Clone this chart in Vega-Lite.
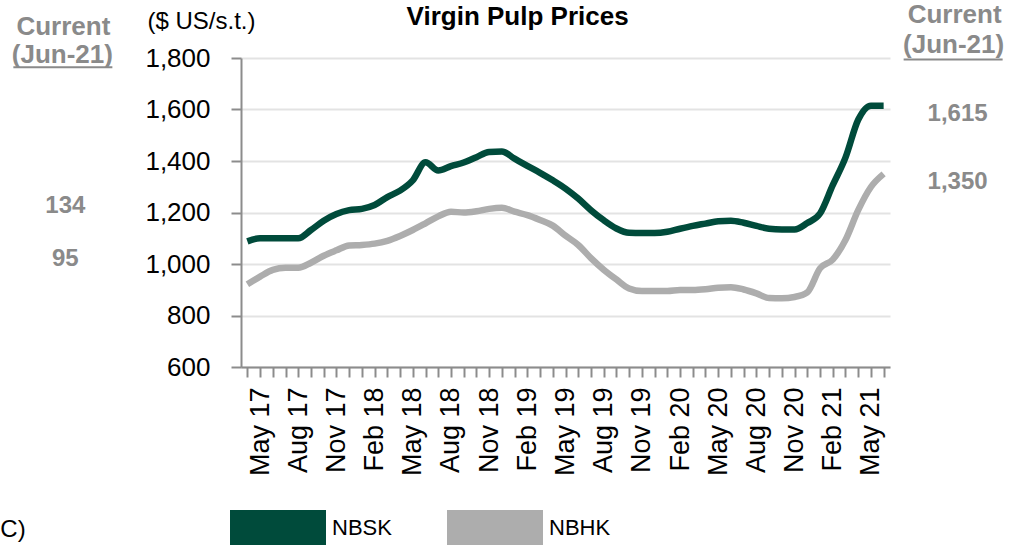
{
  "$schema": "https://vega.github.io/schema/vega-lite/v6.json",
  "width": 649,
  "height": 309,
  "autosize": {"type": "none"},
  "padding": {"left": 241, "top": 58, "right": 121, "bottom": 178},
  "background": "white",
  "config": {
    "view": {"stroke": null},
    "font": "Liberation Sans",
    "text": {"font": "Liberation Sans"}
  },
  "datasets": {
    "prices": [
      {"month": "Apr 17", "NBSK": 1088, "NBHK": 921},
      {"month": "May 17", "NBSK": 1100, "NBHK": 951},
      {"month": "Jun 17", "NBSK": 1100, "NBHK": 977},
      {"month": "Jul 17", "NBSK": 1100, "NBHK": 985},
      {"month": "Aug 17", "NBSK": 1100, "NBHK": 985},
      {"month": "Sep 17", "NBSK": 1132, "NBHK": 1005},
      {"month": "Oct 17", "NBSK": 1168, "NBHK": 1032},
      {"month": "Nov 17", "NBSK": 1194, "NBHK": 1053},
      {"month": "Dec 17", "NBSK": 1209, "NBHK": 1072},
      {"month": "Jan 18", "NBSK": 1214, "NBHK": 1074},
      {"month": "Feb 18", "NBSK": 1229, "NBHK": 1079},
      {"month": "Mar 18", "NBSK": 1260, "NBHK": 1090},
      {"month": "Apr 18", "NBSK": 1285, "NBHK": 1109},
      {"month": "May 18", "NBSK": 1325, "NBHK": 1132},
      {"month": "Jun 18", "NBSK": 1395, "NBHK": 1158},
      {"month": "Jul 18", "NBSK": 1363, "NBHK": 1185},
      {"month": "Aug 18", "NBSK": 1380, "NBHK": 1203},
      {"month": "Sep 18", "NBSK": 1394, "NBHK": 1200},
      {"month": "Oct 18", "NBSK": 1415, "NBHK": 1205},
      {"month": "Nov 18", "NBSK": 1435, "NBHK": 1214},
      {"month": "Dec 18", "NBSK": 1437, "NBHK": 1218},
      {"month": "Jan 19", "NBSK": 1409, "NBHK": 1203},
      {"month": "Feb 19", "NBSK": 1381, "NBHK": 1190},
      {"month": "Mar 19", "NBSK": 1354, "NBHK": 1171},
      {"month": "Apr 19", "NBSK": 1325, "NBHK": 1149},
      {"month": "May 19", "NBSK": 1293, "NBHK": 1110},
      {"month": "Jun 19", "NBSK": 1254, "NBHK": 1074},
      {"month": "Jul 19", "NBSK": 1209, "NBHK": 1023},
      {"month": "Aug 19", "NBSK": 1170, "NBHK": 978},
      {"month": "Sep 19", "NBSK": 1138, "NBHK": 940},
      {"month": "Oct 19", "NBSK": 1121, "NBHK": 905},
      {"month": "Nov 19", "NBSK": 1120, "NBHK": 895},
      {"month": "Dec 19", "NBSK": 1120, "NBHK": 895},
      {"month": "Jan 20", "NBSK": 1125, "NBHK": 895},
      {"month": "Feb 20", "NBSK": 1137, "NBHK": 899},
      {"month": "Mar 20", "NBSK": 1148, "NBHK": 899},
      {"month": "Apr 20", "NBSK": 1157, "NBHK": 902},
      {"month": "May 20", "NBSK": 1166, "NBHK": 908},
      {"month": "Jun 20", "NBSK": 1168, "NBHK": 910},
      {"month": "Jul 20", "NBSK": 1160, "NBHK": 901},
      {"month": "Aug 20", "NBSK": 1148, "NBHK": 886},
      {"month": "Sep 20", "NBSK": 1137, "NBHK": 868},
      {"month": "Oct 20", "NBSK": 1134, "NBHK": 867},
      {"month": "Nov 20", "NBSK": 1134, "NBHK": 872},
      {"month": "Dec 20", "NBSK": 1159, "NBHK": 890},
      {"month": "Jan 21", "NBSK": 1196, "NBHK": 983},
      {"month": "Feb 21", "NBSK": 1306, "NBHK": 1017},
      {"month": "Mar 21", "NBSK": 1413, "NBHK": 1093},
      {"month": "Apr 21", "NBSK": 1560, "NBHK": 1209},
      {"month": "May 21", "NBSK": 1615, "NBHK": 1299},
      {"month": "Jun 21", "NBSK": 1615, "NBHK": 1350}
    ]
  },
  "layer": [
    {
      "data": {"name": "prices"},
      "transform": [{"fold": ["NBSK", "NBHK"], "as": ["series", "price"]}],
      "mark": {"type": "line", "interpolate": "monotone", "strokeWidth": 6.5, "strokeJoin": "round"},
      "encoding": {
        "x": {
          "field": "month", "type": "ordinal",
          "scale": {"type": "point", "padding": 0.5, "domain": ["Apr 17","May 17","Jun 17","Jul 17","Aug 17","Sep 17","Oct 17","Nov 17","Dec 17","Jan 18","Feb 18","Mar 18","Apr 18","May 18","Jun 18","Jul 18","Aug 18","Sep 18","Oct 18","Nov 18","Dec 18","Jan 19","Feb 19","Mar 19","Apr 19","May 19","Jun 19","Jul 19","Aug 19","Sep 19","Oct 19","Nov 19","Dec 19","Jan 20","Feb 20","Mar 20","Apr 20","May 20","Jun 20","Jul 20","Aug 20","Sep 20","Oct 20","Nov 20","Dec 20","Jan 21","Feb 21","Mar 21","Apr 21","May 21","Jun 21"]},
          "axis": {
            "title": null, "grid": false,
            "domainColor": "#8c8c8c", "domainWidth": 2,
            "tickColor": "#8c8c8c", "tickWidth": 2, "tickSize": 10,
            "labelAngle": 270, "labelAlign": "right", "labelBaseline": "middle",
            "labelFontSize": 27, "labelColor": "#000000", "labelPadding": 10,
            "labelOverlap": false, "labelBound": false,
            "labelExpr": "test(/^(Feb|May|Aug|Nov)/, datum.value) ? datum.value : ''"
          }
        },
        "y": {
          "field": "price", "type": "quantitative",
          "scale": {"domain": [600, 1800], "nice": false, "zero": false},
          "axis": {
            "values": [600, 800, 1000, 1200, 1400, 1600, 1800], "format": ",.0f",
            "title": "($ US/s.t.)", "titleAngle": 0, "titleAlign": "left", "titleBaseline": "alphabetic",
            "titleX": -94, "titleY": -30, "titleFontSize": 24, "titleFontWeight": "normal", "titleColor": "#000000",
            "grid": true, "gridColor": "#e3e3e3", "gridWidth": 2,
            "domainColor": "#8c8c8c", "domainWidth": 2,
            "tickColor": "#8c8c8c", "tickWidth": 2, "tickSize": 10,
            "labelFontSize": 26, "labelColor": "#000000", "labelPadding": 21
          }
        },
        "color": {
          "field": "series", "type": "nominal",
          "scale": {"domain": ["NBSK", "NBHK"], "range": ["#004b3b", "#adadad"]},
          "legend": {
            "orient": "none", "legendX": -11, "legendY": 422, "direction": "horizontal", "title": null,
            "symbolType": "M-1,-0.375L1,-0.375L1,0.375L-1,0.375Z", "symbolSize": 9216, "symbolStrokeWidth": 0,
            "labelFontSize": 22, "labelFont": "Liberation Sans", "labelColor": "#000000", "labelOffset": 6,
            "columnPadding": 55, "padding": 0,
            "encode": {"symbols": {"update": {"fill": {"scale": "color", "field": "value"}, "stroke": {"value": "transparent"}, "opacity": {"value": 1}}}}
          }
        }
      }
    },
    {
      "data": {"name": "prices"},
      "transform": [{"fold": ["NBSK", "NBHK"], "as": ["series", "price"]}, {"filter": "datum.month == 'Jun 21'"}],
      "mark": {"type": "text", "fontSize": 24, "fontWeight": "bold", "color": "#8a8a8a", "align": "center", "baseline": "alphabetic", "dx": 74, "dy": 15},
      "encoding": {
        "x": {"field": "month", "type": "ordinal"},
        "y": {"field": "price", "type": "quantitative"},
        "text": {"field": "price", "type": "quantitative", "format": ",.0f"}
      }
    },
    {
      "data": {"values": [{"label": "Current"}]},
      "mark": {"type": "text", "fontSize": 26, "fontWeight": "bold", "color": "#8a8a8a", "align": "center", "baseline": "alphabetic", "dx": 71},
      "encoding": {"x": {"datum": "Jun 21", "type": "ordinal"}, "y": {"datum": 1936, "type": "quantitative"}, "text": {"field": "label"}}
    },
    {
      "data": {"values": [{"label": "(Jun-21)"}]},
      "mark": {"type": "text", "fontSize": 26, "fontWeight": "bold", "color": "#8a8a8a", "align": "center", "baseline": "alphabetic", "dx": 70},
      "encoding": {"x": {"datum": "Jun 21", "type": "ordinal"}, "y": {"datum": 1819, "type": "quantitative"}, "text": {"field": "label"}}
    },
    {
      "data": {"values": [{"label": "underline"}]},
      "mark": {"type": "rule", "color": "#8a8a8a", "strokeWidth": 2, "xOffset": 20, "x2Offset": 119},
      "encoding": {"x": {"datum": "Jun 21", "type": "ordinal"}, "x2": {"datum": "Jun 21"}, "y": {"datum": 1794, "type": "quantitative"}}
    },
    {
      "data": {"values": [{"label": "Current"}]},
      "mark": {"type": "text", "fontSize": 26, "fontWeight": "bold", "color": "#8a8a8a", "align": "center", "baseline": "alphabetic", "dx": -184},
      "encoding": {"x": {"datum": "Apr 17", "type": "ordinal"}, "y": {"datum": 1889, "type": "quantitative"}, "text": {"field": "label"}}
    },
    {
      "data": {"values": [{"label": "(Jun-21)"}]},
      "mark": {"type": "text", "fontSize": 26, "fontWeight": "bold", "color": "#8a8a8a", "align": "center", "baseline": "alphabetic", "dx": -185},
      "encoding": {"x": {"datum": "Apr 17", "type": "ordinal"}, "y": {"datum": 1781, "type": "quantitative"}, "text": {"field": "label"}}
    },
    {
      "data": {"values": [{"label": "underline"}]},
      "mark": {"type": "rule", "color": "#8a8a8a", "strokeWidth": 2, "xOffset": -234, "x2Offset": -135},
      "encoding": {"x": {"datum": "Apr 17", "type": "ordinal"}, "x2": {"datum": "Apr 17"}, "y": {"datum": 1764, "type": "quantitative"}}
    },
    {
      "data": {"values": [{"label": "134"}]},
      "mark": {"type": "text", "fontSize": 24, "fontWeight": "bold", "color": "#8a8a8a", "align": "center", "baseline": "alphabetic", "dx": -182},
      "encoding": {"x": {"datum": "Apr 17", "type": "ordinal"}, "y": {"datum": 1198, "type": "quantitative"}, "text": {"field": "label"}}
    },
    {
      "data": {"values": [{"label": "95"}]},
      "mark": {"type": "text", "fontSize": 24, "fontWeight": "bold", "color": "#8a8a8a", "align": "center", "baseline": "alphabetic", "dx": -182},
      "encoding": {"x": {"datum": "Apr 17", "type": "ordinal"}, "y": {"datum": 992, "type": "quantitative"}, "text": {"field": "label"}}
    },
    {
      "data": {"values": [{"label": "Virgin Pulp Prices"}]},
      "mark": {"type": "text", "fontSize": 26, "fontWeight": "bold", "color": "#000000", "align": "center", "baseline": "alphabetic", "dx": 3},
      "encoding": {"x": {"datum": "Jan 19", "type": "ordinal"}, "y": {"datum": 1928, "type": "quantitative"}, "text": {"field": "label"}}
    },
    {
      "data": {"values": [{"label": "C)"}]},
      "mark": {"type": "text", "fontSize": 24, "color": "#000000", "align": "left", "baseline": "alphabetic", "dx": -247},
      "encoding": {"x": {"datum": "Apr 17", "type": "ordinal"}, "y": {"datum": -60, "type": "quantitative"}, "text": {"field": "label"}}
    }
  ]
}
